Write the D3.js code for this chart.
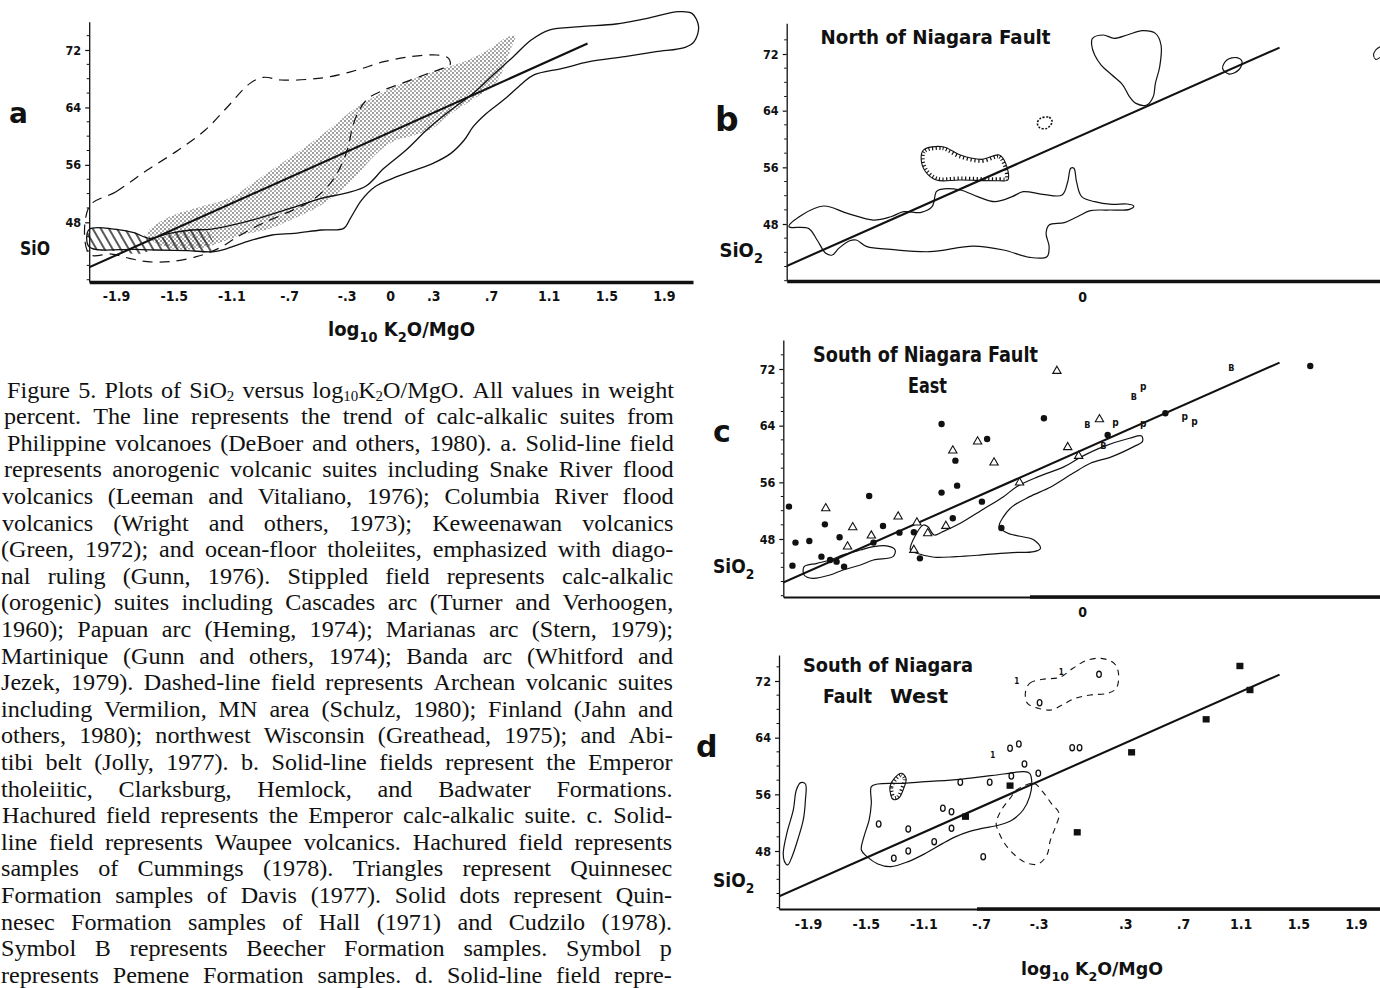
<!DOCTYPE html>
<html><head><meta charset="utf-8">
<script src="https://cdn.jsdelivr.net/npm/d3@7"></script>
<style>body{margin:0;background:#fff}svg{display:block}</style>
</head><body>
<svg id="fig" width="1380" height="988"></svg>
<script>
// ---------------- DATA ----------------
const trendLine = [[-2.1, 41.6], [1.37, 72.9]];
const yTicks = [48, 56, 64, 72];
const xTicksA = [-1.9, -1.5, -1.1, -0.7, -0.3, 0, 0.3, 0.7, 1.1, 1.5, 1.9];
const xTickLabelsA = ["-1.9", "-1.5", "-1.1", "-.7", "-.3", "0", ".3", ".7", "1.1", "1.5", "1.9"];
const xTicksBC = [0];
const xTickLabelsBC = ["0"];
const xTicksD = [-1.9, -1.5, -1.1, -0.7, -0.3, 0.3, 0.7, 1.1, 1.5, 1.9];
const xTickLabelsD = ["-1.9", "-1.5", "-1.1", "-.7", "-.3", ".3", ".7", "1.1", "1.5", "1.9"];

// panel a
const aAnorogenicField = [[-2.086,47.02],[-1.90,47.02],[-1.776,46.56],[-1.668,45.77],[-1.529,46.46],[-1.374,46.93],[-1.25,47.02],[-0.971,48.23],[-0.693,49.94],[-0.476,51.34],[-0.29,52.13],[-0.166,53.05],[-0.042,55.52],[0.112,58.07],[0.267,61.09],[0.422,63.64],[0.577,65.96],[0.701,68.28],[0.855,71.07],[0.979,73.39],[1.103,74.78],[1.32,75.25],[1.567,75.62],[1.784,76.41],[2.001,77.34],[2.094,77.1],[2.14,75.25],[2.109,73.16],[2.047,72.37],[1.846,71.76],[1.629,71.07],[1.382,70.37],[1.196,69.44],[0.995,68.51],[0.917,67.35],[0.793,65.13],[0.67,63.18],[0.577,61.32],[0.515,59.46],[0.422,57.6],[0.298,56.21],[0.174,55.28],[0.019,54.12],[-0.104,52.96],[-0.197,51.1],[-0.275,48.55],[-0.321,47.16],[-0.476,46.93],[-0.662,46.46],[-0.817,46.23],[-0.971,45.44],[-1.126,44.37],[-1.219,43.91],[-1.405,44.05],[-1.621,44.14],[-1.776,44.23],[-2.086,44.6]];
const aTholeiiteHatch = [[-2.086,46.93],[-1.838,46.93],[-1.714,46.23],[-1.637,45.63],[-1.498,46.56],[-1.281,46.93],[-1.225,44.05],[-1.467,44.14],[-1.652,44.05],[-1.745,43.58],[-1.869,43.91],[-2.086,44.51]];
const aCalcAlkalicStipple = [[-1.683,46.46],[-1.529,48.78],[-1.312,50.18],[-1.095,51.57],[-0.94,53.66],[-0.786,55.75],[-0.6,58.3],[-0.414,61.09],[-0.228,64.1],[-0.042,66.19],[0.143,67.82],[0.329,69.21],[0.484,70.14],[0.639,71.53],[0.732,72.69],[0.809,73.76],[0.871,73.95],[0.84,72.23],[0.793,69.67],[0.732,67.35],[0.623,65.73],[0.515,64.34],[0.391,62.71],[0.298,61.09],[0.174,60.16],[0.019,59.23],[-0.104,57.37],[-0.228,54.59],[-0.321,52.73],[-0.476,50.41],[-0.662,48.55],[-0.848,47.02],[-1.033,46.23],[-1.188,45.07],[-1.312,44.37],[-1.467,44.23],[-1.621,45.07]];
const aArcheanDashed = [[-2.086,50.18],[-1.90,52.27],[-1.683,55.28],[-1.467,58.07],[-1.281,60.85],[-1.126,64.1],[-0.971,67.35],[-0.878,68.19],[-0.755,67.82],[-0.569,67.91],[-0.414,68.28],[-0.228,69.21],[-0.042,70.37],[0.143,71.07],[0.329,71.3],[0.406,70.84],[0.416,69.91],[0.345,69.3],[0.236,68.51],[0.081,67.35],[-0.042,66.43],[-0.151,65.26],[-0.213,63.64],[-0.259,61.32],[-0.29,58.53],[-0.337,55.98],[-0.414,53.43],[-0.538,51.1],[-0.724,49.25],[-0.909,47.62],[-1.064,45.9],[-1.188,44.37],[-1.343,43.21],[-1.529,42.52],[-1.683,42.52],[-1.807,42.98],[-1.931,43.58],[-2.086,43.58]];

// panel b
const bTholeiiticField = [[-2.032,47.62],[-1.897,47.38],[-1.837,45.74],[-1.777,43.86],[-1.732,43.62],[-1.687,44.56],[-1.611,45.64],[-1.566,45.74],[-1.491,44.8],[-1.326,44.42],[-1.055,44.09],[-0.754,44.89],[-0.544,44.33],[-0.363,43.29],[-0.243,43.38],[-0.228,44.8],[-0.249,46.68],[-0.228,47.86],[-0.123,48.19],[-0.032,49.03],[0.058,49.88],[0.178,49.97],[0.329,50.07],[0.359,50.54],[0.313,50.82],[0.208,50.78],[0.088,51.15],[-0.002,51.86],[-0.038,53.97],[-0.056,55.86],[-0.078,55.86],[-0.099,53.97],[-0.138,52.09],[-0.273,52.19],[-0.408,52.56],[-0.484,51.86],[-0.604,51.15],[-0.724,51.86],[-0.844,52.8],[-0.98,52.89],[-1.01,52.56],[-1.04,50.44],[-1.115,49.64],[-1.236,49.74],[-1.326,49.03],[-1.446,48.56],[-1.626,49.5],[-1.792,50.54],[-1.942,49.27]];
const bCalcAlkalicHachure = [[-1.1,58.44],[-0.965,58.91],[-0.844,57.74],[-0.694,57.13],[-0.574,57.74],[-0.529,56.56],[-0.514,54.21],[-0.574,54.11],[-0.844,54.21],[-1.01,54.21],[-1.085,55.38],[-1.115,57.03]];
const bSmallDottedLoop = [[-0.288,62.91],[-0.228,63.06],[-0.207,62.44],[-0.243,61.5],[-0.297,61.64],[-0.309,62.3]];
const bUpperLobe = [[0.073,74.21],[0.148,74.68],[0.223,74.21],[0.313,74.68],[0.419,75.29],[0.509,74.91],[0.548,73.27],[0.539,70.21],[0.509,67.86],[0.494,65.97],[0.449,64.8],[0.374,65.03],[0.329,65.97],[0.283,67.62],[0.208,69.03],[0.133,70.44],[0.088,71.86],[0.067,73.27]];
const bSmallEllipse = [[0.975,69.97],[1.005,71.15],[1.074,71.48],[1.11,70.91],[1.086,69.74],[1.02,69.17]];
const bEdgeCurve = [[2.067,73.03],[2.037,72.56],[2.022,71.86],[2.037,71.24],[2.067,71.53]];

// panel c
const cWaupeeSmall = [[-1.927,44.1],[-1.837,44.57],[-1.747,45.04],[-1.657,45.75],[-1.536,46.45],[-1.446,46.92],[-1.356,47.02],[-1.296,46.45],[-1.311,45.51],[-1.446,45.04],[-1.536,44.33],[-1.657,43.63],[-1.747,42.92],[-1.867,42.45],[-1.927,42.92]];
const cWaupeeMain = [[-1.19,46.45],[-1.16,48.33],[-1.1,49.98],[-1.07,49.75],[-1.025,48.57],[-0.965,49.04],[-0.844,50.22],[-0.694,52.1],[-0.544,53.98],[-0.453,55.39],[-0.303,56.8],[-0.123,58.22],[-0.002,59.63],[0.148,61.04],[0.329,62.22],[0.413,62.55],[0.419,61.75],[0.359,61.04],[0.208,59.63],[0.058,58.69],[-0.063,57.27],[-0.213,55.39],[-0.363,53.98],[-0.484,52.57],[-0.544,51.16],[-0.574,49.75],[-0.514,48.8],[-0.333,47.86],[-0.288,46.69],[-0.333,46.22],[-0.484,46.08],[-0.694,45.75],[-0.874,45.51],[-1.025,45.42],[-1.145,45.98]];
const cHallCudziloDots = [[-2.032,52.57],[-1.987,47.49],[-1.891,47.72],[-2.008,44.24],[-1.783,50.07],[-1.681,48.24],[-1.476,54.07],[-1.38,49.84],[-1.446,47.49],[-1.807,45.51],[-1.747,45.04],[-1.702,44.8],[-1.65,44.1],[-1.266,48.9],[-1.166,48.95],[-1.124,45.27],[-0.974,54.55],[-0.896,50.92],[-0.866,55.53],[-0.878,59.06],[-0.694,53.27],[-0.658,62.12],[-0.974,64.24],[-0.264,65.04],[-0.559,49.56],[0.178,62.69],[0.578,65.75],[1.583,72.43]];
const cDavisTriangles = [[-1.777,52.33],[-1.59,49.65],[-1.461,48.47],[-1.626,46.92],[-1.275,51.16],[-1.145,50.31],[-1.07,48.8],[-0.944,49.84],[-0.896,60.48],[-0.724,61.75],[-0.61,58.78],[-0.433,55.96],[-0.099,60.95],[-0.023,59.72],[-0.174,71.72],[0.121,64.9],[-1.166,46.45]];
const cBeecherB = [[0.037,64.1],[0.148,61.27],[0.359,68.1],[1.035,72.24]];
const cPemeneP = [[0.232,64.33],[0.425,64.19],[0.425,69.42],[0.713,65.18],[0.78,64.43]];

// panel d
const dLeftLoop = [[-2.072,47.67],[-2.047,50.5],[-2.002,53.79],[-1.981,56.61],[-1.951,57.65],[-1.918,57.46],[-1.918,55.2],[-1.933,52.38],[-1.972,49.55],[-2.011,47.2],[-2.041,46.03],[-2.063,46.5]];
const dMainField = [[-1.461,57.08],[-1.416,57.46],[-1.236,57.55],[-1.085,57.79],[-0.844,58.12],[-0.544,58.87],[-0.408,59.2],[-0.363,58.97],[-0.348,57.55],[-0.363,55.67],[-0.408,53.79],[-0.484,52.38],[-0.574,51.67],[-0.694,51.2],[-0.784,50.73],[-0.875,50.03],[-0.965,49.08],[-1.085,47.67],[-1.205,46.5],[-1.326,45.79],[-1.416,46.17],[-1.491,47.2],[-1.53,48.14],[-1.512,50.03],[-1.476,52.38],[-1.461,54.73]];
const dHachureOval = [[-1.326,55.91],[-1.332,57.08],[-1.296,58.4],[-1.251,58.97],[-1.22,58.26],[-1.236,56.85],[-1.272,55.44],[-1.311,55.3]];
const dDashedLower = [[-0.453,56.61],[-0.333,57.55],[-0.273,56.38],[-0.213,54.73],[-0.159,53.32],[-0.183,51.44],[-0.219,49.55],[-0.243,47.44],[-0.303,46.17],[-0.378,46.26],[-0.453,47.2],[-0.529,48.85],[-0.574,50.5],[-0.595,51.91],[-0.559,53.79],[-0.499,55.44]];
const dDashedUpper = [[-0.393,70.26],[-0.363,71.67],[-0.273,72.24],[-0.153,72.52],[-0.063,73.79],[0.028,74.87],[0.133,75.2],[0.223,74.5],[0.253,73.08],[0.238,70.97],[0.178,70.26],[0.058,70.03],[-0.048,69.55],[-0.138,68.61],[-0.213,67.91],[-0.303,68.14],[-0.378,68.85]];
const dOpenO = [[-1.41,51.81],[-1.205,51.11],[-1.305,46.97],[-1.205,48.0],[-1.025,49.32],[-0.905,51.2],[-0.965,54.03],[-0.905,53.55],[-0.844,57.7],[-0.64,57.7],[-0.49,58.59],[-0.399,60.28],[-0.303,58.97],[-0.438,63.11],[-0.499,62.5],[-0.068,62.59],[-0.017,62.59],[-0.685,47.2],[-0.294,68.94],[0.118,72.94]];
const dOnes = [[-0.619,61.55],[-0.453,72.0],[-0.144,73.32]];
const dSquares = [[1.095,74.12],[1.165,70.73],[0.861,66.59],[0.344,61.93],[-0.033,50.64],[-0.499,57.23],[-0.808,52.85]];

const captionLines = [
"Figure 5. Plots of SiO_2 versus log_10K_2O/MgO. All values in weight",
"percent. The line represents the trend of calc-alkalic suites from",
"Philippine volcanoes (DeBoer and others, 1980). a. Solid-line field",
"represents anorogenic volcanic suites including Snake River flood",
"volcanics (Leeman and Vitaliano, 1976); Columbia River flood",
"volcanics (Wright and others, 1973); Keweenawan volcanics",
"(Green, 1972); and ocean-floor tholeiites, emphasized with diago-",
"nal ruling (Gunn, 1976). Stippled field represents calc-alkalic",
"(orogenic) suites including Cascades arc (Turner and Verhoogen,",
"1960); Papuan arc (Heming, 1974); Marianas arc (Stern, 1979);",
"Martinique (Gunn and others, 1974); Banda arc (Whitford and",
"Jezek, 1979). Dashed-line field represents Archean volcanic suites",
"including Vermilion, MN area (Schulz, 1980); Finland (Jahn and",
"others, 1980); northwest Wisconsin (Greathead, 1975); and Abi-",
"tibi belt (Jolly, 1977). b. Solid-line fields represent the Emperor",
"tholeiitic, Clarksburg, Hemlock, and Badwater Formations.",
"Hachured field represents the Emperor calc-alkalic suite. c. Solid-",
"line field represents Waupee volcanics. Hachured field represents",
"samples of Cummings (1978). Triangles represent Quinnesec",
"Formation samples of Davis (1977). Solid dots represent Quin-",
"nesec Formation samples of Hall (1971) and Cudzilo (1978).",
"Symbol B represents Beecher Formation samples. Symbol p",
"represents Pemene Formation samples. d. Solid-line field repre-"
];

// ---------------- LAYOUT ----------------
const INK = "#111";
const chartFont = "'DejaVu Sans Condensed','Liberation Sans Narrow','DejaVu Sans',sans-serif";
const serifFont = "'Liberation Serif','Times New Roman',serif";
const pxPerUnit = 144.2;
const panels = {
  a: {x0: 390, axisL: 89.2, axisR: 693, y48: 222.3, y72: 50, axisTop: 21.7, axisBot: 282, xPad: 9, xThick: 89.2},
  b: {x0: 1082, axisL: 786.7, axisR: 1380, y48: 224, y72: 54, axisTop: 23.3, axisBot: 281, xPad: 11, xThick: 786.7},
  c: {x0: 1082, axisL: 783.3, axisR: 1380, y48: 539, y72: 369, axisTop: 340, axisBot: 597, xPad: 10, xThick: 1030},
  d: {x0: 1082, axisL: 779, axisR: 1380, y48: 851, y72: 681, axisTop: 655, axisBot: 909, xPad: 10, xThick: 977}
};
const capTop = 397.5, capLead = 26.6, capRight0 = 674, capRightSlope = 0.1;
const capFontSize = 23, capStretch = 1.05, capSubShift = 3.5;
const capLeft = [7,4,7,4,2,2,1,1,1,1,1,1,1,1,1,1,2,1,1,1,1,1,1];

const svg = d3.select("#fig");
svg.append("rect").attr("width", 1380).attr("height", 988).attr("fill", "#fff");
const defs = svg.append("defs");
const st = defs.append("pattern").attr("id", "stipple").attr("patternUnits", "userSpaceOnUse").attr("width", 4).attr("height", 4);
st.append("circle").attr("cx", 1).attr("cy", 1).attr("r", 0.8).attr("fill", "#222");
st.append("circle").attr("cx", 3).attr("cy", 3).attr("r", 0.7).attr("fill", "#222");
const ht = defs.append("pattern").attr("id", "hatch").attr("patternUnits", "userSpaceOnUse")
  .attr("width", 7).attr("height", 7).attr("patternTransform", "rotate(-30)");
ht.append("line").attr("x1", 1).attr("y1", -1).attr("x2", 1).attr("y2", 8).attr("stroke", INK).attr("stroke-width", 1.4);

let clipId = 0;

function subText(g, str, x, y, size, len, weight) {
  const t = g.append("text").attr("x", x).attr("y", y).attr("font-family", chartFont)
    .attr("font-size", size).attr("font-weight", weight || "bold").attr("fill", INK);
  str.split(/_(\d+)/).forEach((part, k) => {
    if (!part) return;
    if (k % 2 === 1) t.append("tspan").attr("font-size", "72%").attr("dy", size * 0.32).text(part);
    else { const ts = t.append("tspan").text(part); if (k > 0) ts.attr("dy", -size * 0.32); }
  });
  if (len) t.attr("textLength", len).attr("lengthAdjust", "spacingAndGlyphs");
  return t;
}

function drawPanel(key, ticks, labels) {
  const p = panels[key];
  const x = d3.scaleLinear().domain([(p.axisL - p.x0) / pxPerUnit, (p.axisR - p.x0) / pxPerUnit]).range([p.axisL, p.axisR]);
  const y = d3.scaleLinear().domain([48, 72]).range([p.y48, p.y72]);
  const g = svg.append("g");
  const yAx = d3.scaleLinear().domain([y.invert(p.axisBot), y.invert(p.axisTop)]).range([p.axisBot, p.axisTop]);
  const ya = g.append("g").attr("transform", `translate(${p.axisL},0)`)
    .call(d3.axisLeft(yAx).tickValues(yTicks).tickSize(4).tickSizeOuter(0).tickPadding(4));
  ya.select(".domain").attr("stroke", INK).attr("stroke-width", 1.3);
  ya.selectAll(".tick line").attr("stroke", INK).attr("stroke-width", 1.2);
  ya.selectAll("text").attr("font-family", chartFont).attr("font-weight", "bold").attr("font-size", 12.5).attr("fill", INK);
  const minor = d3.range(40, 76, 2).filter(v => !yTicks.includes(v) && v > yAx.domain()[0] && v < yAx.domain()[1]);
  g.selectAll(".minor").data(minor).join("line").attr("x1", p.axisL - 2.5).attr("x2", p.axisL)
    .attr("y1", d => yAx(d)).attr("y2", d => yAx(d)).attr("stroke", INK).attr("stroke-width", 1);
  const xa = g.append("g").attr("transform", `translate(0,${p.axisBot})`)
    .call(d3.axisBottom(x).tickValues(ticks).tickFormat((d, i) => labels[i]).tickSize(0).tickSizeOuter(0).tickPadding(p.xPad));
  xa.select(".domain").attr("stroke", INK).attr("stroke-width", p.xThick > p.axisL ? 1.8 : 3.6);
  xa.selectAll("text").attr("font-family", chartFont).attr("font-weight", "bold").attr("font-size", 14).attr("fill", INK);
  if (p.xThick > p.axisL) {
    g.append("line").attr("x1", p.xThick).attr("x2", p.axisR).attr("y1", p.axisBot).attr("y2", p.axisBot)
      .attr("stroke", INK).attr("stroke-width", 3.6);
  }
  const cid = "clip" + (clipId++);
  defs.append("clipPath").attr("id", cid).append("rect").attr("x", p.axisL).attr("y", 0).attr("width", 1380 - p.axisL).attr("height", p.axisBot + 2);
  const plot = g.append("g");
  return {g, plot, x, y, cid};
}

function closedLine(P) { return d3.line().x(d => P.x(d[0])).y(d => P.y(d[1])).curve(d3.curveCatmullRomClosed.alpha(0.5)); }
function outline(P, data, opts) {
  return P.plot.append("path").datum(data).attr("d", closedLine(P)).attr("fill", opts.fill || "none")
    .attr("stroke", opts.stroke === undefined ? INK : opts.stroke).attr("stroke-width", opts.sw || 1.3)
    .attr("stroke-dasharray", opts.dash || null).attr("stroke-linejoin", "round");
}
function hachure(P, data) {
  const id = "hc" + (clipId++);
  defs.append("clipPath").attr("id", id).append("path").attr("d", closedLine(P)(data));
  P.plot.append("path").datum(data).attr("d", closedLine(P)).attr("fill", "none").attr("stroke", INK)
    .attr("stroke-width", 7).attr("stroke-dasharray", "1.2 2.6").attr("clip-path", `url(#${id})`);
  outline(P, data, {sw: 1.1});
}
function trend(P) {
  P.plot.append("path").datum(trendLine).attr("d", d3.line().x(d => P.x(d[0])).y(d => P.y(d[1])))
    .attr("stroke", INK).attr("stroke-width", 2.1).attr("fill", "none").attr("clip-path", `url(#${P.cid})`);
}

// ---------- Panel a ----------
const A = drawPanel("a", xTicksA, xTickLabelsA);
outline(A, aCalcAlkalicStipple, {fill: "url(#stipple)", stroke: "none"});
outline(A, aTholeiiteHatch, {fill: "url(#hatch)", stroke: "none"});
outline(A, aAnorogenicField, {sw: 1.3});
outline(A, aArcheanDashed, {sw: 1.2, dash: "10 7"});
trend(A);
A.g.append("text").attr("x", 9).attr("y", 123).attr("font-family", "'DejaVu Sans',sans-serif").attr("font-size", 28).attr("font-weight", "bold").attr("fill", INK).text("a");
subText(A.g, "SiO", 20, 255, 19, 30);
subText(A.g, "log_10 K_2O/MgO", 328, 336, 19, 147);

// ---------- Panel b ----------
const B = drawPanel("b", xTicksBC, xTickLabelsBC);
outline(B, bTholeiiticField, {sw: 1.2});
hachure(B, bCalcAlkalicHachure);
outline(B, bSmallDottedLoop, {sw: 1.6, dash: "2 1.5"});
outline(B, bUpperLobe, {sw: 1.2});
outline(B, bSmallEllipse, {sw: 1.2});
B.plot.append("path").datum(bEdgeCurve).attr("d", d3.line().x(d => B.x(d[0])).y(d => B.y(d[1])).curve(d3.curveCatmullRom))
  .attr("fill", "none").attr("stroke", INK).attr("stroke-width", 1.1);
trend(B);
B.g.append("text").attr("x", 715).attr("y", 131).attr("font-family", "'DejaVu Sans',sans-serif").attr("font-size", 33).attr("font-weight", "bold").attr("fill", INK).text("b");
subText(B.g, "North of Niagara Fault", 820.6, 44, 20, 230);
subText(B.g, "SiO_2", 719.5, 257, 20);

// ---------- Panel c ----------
const C = drawPanel("c", xTicksBC, xTickLabelsBC);
outline(C, cWaupeeSmall, {sw: 1.2});
outline(C, cWaupeeMain, {sw: 1.2});
trend(C);
C.plot.selectAll(".dot").data(cHallCudziloDots).join("circle").attr("cx", d => C.x(d[0])).attr("cy", d => C.y(d[1])).attr("r", 3.2).attr("fill", INK);
C.plot.selectAll(".tri").data(cDavisTriangles).join("path").attr("d", d3.symbol(d3.symbolTriangle, 30))
  .attr("transform", d => `translate(${C.x(d[0])},${C.y(d[1])})`).attr("fill", "#fff").attr("stroke", INK).attr("stroke-width", 1.1);
C.plot.selectAll(".bb").data(cBeecherB).join("text").attr("x", d => C.x(d[0])).attr("y", d => C.y(d[1]) + 3.5)
  .attr("text-anchor", "middle").attr("font-family", chartFont).attr("font-weight", "bold").attr("font-size", 9).attr("fill", INK).text("B");
C.plot.selectAll(".pp").data(cPemeneP).join("text").attr("x", d => C.x(d[0])).attr("y", d => C.y(d[1]) + 2.5)
  .attr("text-anchor", "middle").attr("font-family", chartFont).attr("font-weight", "bold").attr("font-size", 10).attr("fill", INK).text("p");
C.g.append("text").attr("x", 713).attr("y", 442).attr("font-family", "'DejaVu Sans',sans-serif").attr("font-size", 30).attr("font-weight", "bold").attr("fill", INK).text("c");
subText(C.g, "South of Niagara Fault", 813, 361.5, 21, 225);
subText(C.g, "East", 908, 393, 21, 39);
subText(C.g, "SiO_2", 713, 573, 19);

// ---------- Panel d ----------
const D = drawPanel("d", xTicksD, xTickLabelsD);
outline(D, dLeftLoop, {sw: 1.2});
outline(D, dMainField, {sw: 1.2});
hachure(D, dHachureOval);
outline(D, dDashedLower, {sw: 1.1, dash: "6 5"});
outline(D, dDashedUpper, {sw: 1.1, dash: "6 5"});
trend(D);
D.plot.selectAll(".oo").data(dOpenO).join("ellipse").attr("cx", d => D.x(d[0])).attr("cy", d => D.y(d[1]))
  .attr("rx", 2.3).attr("ry", 3.1).attr("fill", "none").attr("stroke", INK).attr("stroke-width", 1.3);
D.plot.selectAll(".one").data(dOnes).join("text").attr("x", d => D.x(d[0])).attr("y", d => D.y(d[1]) + 3)
  .attr("text-anchor", "middle").attr("font-family", chartFont).attr("font-weight", "bold").attr("font-size", 8).attr("fill", INK).text("1");
D.plot.selectAll(".sq").data(dSquares).join("rect").attr("x", d => D.x(d[0]) - 3.5).attr("y", d => D.y(d[1]) - 3.2)
  .attr("width", 7).attr("height", 6.4).attr("fill", INK);
D.g.append("text").attr("x", 696).attr("y", 757).attr("font-family", "'DejaVu Sans',sans-serif").attr("font-size", 30).attr("font-weight", "bold").attr("fill", INK).text("d");
subText(D.g, "South of Niagara", 803, 671.5, 19, 170);
subText(D.g, "Fault", 823, 703, 19, 49);
subText(D.g, "West", 890, 703, 19, 58);
subText(D.g, "SiO_2", 713, 887, 19);
subText(D.g, "log_10 K_2O/MgO", 1021, 975, 18, 142);

// ---------- Caption ----------
const cap = svg.append("g").attr("font-family", serifFont).attr("font-size", capFontSize).attr("fill", INK);
captionLines.forEach((line, i) => {
  const yb = capTop + i * capLead;
  const left = capLeft[i], right = capRight0 - i * capRightSlope;
  const words = line.split(" ");
  const nodes = words.map(w => {
    const t = cap.append("text").attr("x", 0).attr("y", 0);
    w.split(/_(\d+)/).forEach((part, k) => {
      if (!part) return;
      if (k % 2 === 1) t.append("tspan").attr("font-size", "62%").attr("dy", capSubShift).text(part);
      else { const ts = t.append("tspan").text(part); if (k > 0) ts.attr("dy", -capSubShift); }
    });
    return t;
  });
  const widths = nodes.map(n => n.node().getComputedTextLength() * capStretch);
  const total = d3.sum(widths);
  const gap = words.length > 1 ? (right - left - total) / (words.length - 1) : 0;
  let cx = left;
  nodes.forEach((n, k) => { n.attr("transform", `translate(${cx},${yb}) scale(${capStretch},1)`); cx += widths[k] + gap; });
});
</script>
</body></html>
